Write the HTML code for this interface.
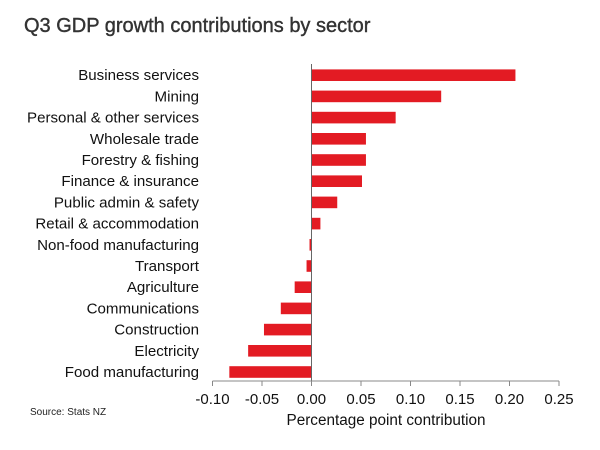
<!DOCTYPE html>
<html><head><meta charset="utf-8"><style>
body{margin:0;background:#fff;}
svg{display:block;font-family:"Liberation Sans",Arial,sans-serif;}
</style></head><body>
<svg id="chart" width="600" height="450">
<text x="24" y="32" font-size="20" fill="#333" stroke="#333" stroke-width="0.4">Q3 GDP growth contributions by sector</text>
<text x="30" y="415" font-size="10" fill="#222">Source: Stats NZ</text>
<text x="386" y="425" font-size="15.3" fill="#111" text-anchor="middle">Percentage point contribution</text>
<g id="bars"></g><g id="axis"></g>
</svg>
<script>
const categories=["Business services","Mining","Personal & other services","Wholesale trade","Forestry & fishing","Finance & insurance","Public admin & safety","Retail & accommodation","Non-food manufacturing","Transport","Agriculture","Communications","Construction","Electricity","Food manufacturing"];
const values=[0.206,0.131,0.085,0.055,0.055,0.051,0.026,0.009,-0.002,-0.005,-0.017,-0.031,-0.048,-0.064,-0.083];
const ticks=[-0.10,-0.05,0,0.05,0.10,0.15,0.20,0.25];
const tickLabels=["-0.10","-0.05","0.00","0.05","0.10","0.15","0.20","0.25"];
const NS="http://www.w3.org/2000/svg";
const x=v=>311.5+v*990;
const y=i=>75.2+i*21.2;
const bars=document.getElementById('bars'),axis=document.getElementById('axis');
function mk(tag,a,p){const e=document.createElementNS(NS,tag);for(const k in a)e.setAttribute(k,a[k]);p.appendChild(e);return e;}
categories.forEach((c,i)=>{
 const v=values[i];
 const r=mk('rect',{x:Math.min(x(0),x(v)),y:y(i)-5.8,width:Math.abs(x(v)-x(0)),height:11.6,fill:'#e31b23'},bars);
 
 
 const t=mk('text',{x:199,y:y(i)+5,'font-size':15.1,'text-anchor':'end',fill:'#111'},bars);
 t.textContent=c;
 
 
});
const zl=mk('line',{x1:x(0),x2:x(0),y1:64,y2:381,stroke:'#666','stroke-width':1},axis);


const al=mk('line',{x1:x(ticks[0]),x2:x(ticks[ticks.length-1]),y1:381,y2:381,stroke:'#888','stroke-width':1},axis);


ticks.forEach((v,i)=>{
 const tk=mk('line',{x1:x(v),x2:x(v),y1:381,y2:386,stroke:'#888'},axis);
 
 
 const t=mk('text',{x:x(v),y:404,'font-size':15,'text-anchor':'middle',fill:'#111'},axis);
 t.textContent=tickLabels[i];
 
 
});
</script>
</body></html>
